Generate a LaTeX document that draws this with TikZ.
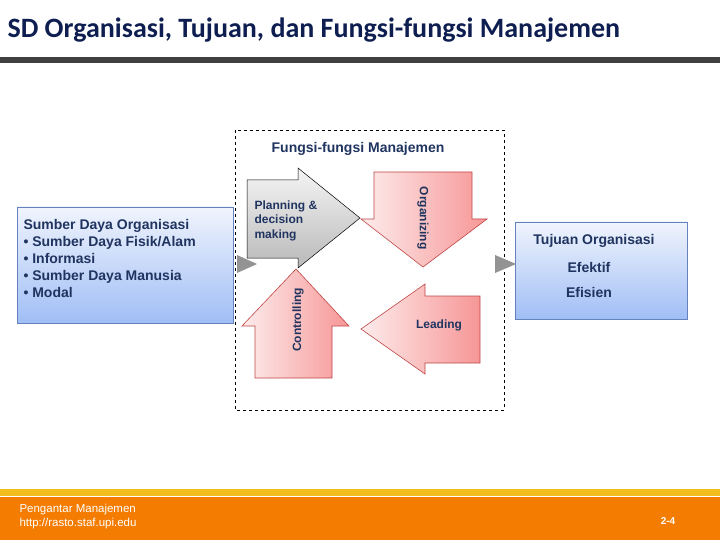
\documentclass[tikz,border=0pt]{standalone}
\usepackage{fontspec}
\setmainfont{Liberation Sans}
\newfontfamily\titlefont{Carlito}
\usetikzlibrary{calc}
\definecolor{titlenavy}{RGB}{14,30,80}
\definecolor{labelnavy}{RGB}{32,52,96}
\definecolor{bargray}{RGB}{64,64,64}
\definecolor{boxblue}{RGB}{100,130,190}
\definecolor{boxtop}{RGB}{240,244,253}
\definecolor{boxbottom}{RGB}{160,190,245}
\definecolor{pinklight}{RGB}{253,236,236}
\definecolor{pinkdark}{RGB}{247,150,150}
\definecolor{pinkline}{RGB}{190,70,70}
\definecolor{footyellow}{RGB}{242,190,30}
\definecolor{footorange}{RGB}{244,124,0}

\begin{document}
\begin{tikzpicture}[x=1pt, y=-1pt,
    label/.style={text=labelnavy, font=\bfseries\fontsize{12}{14}\selectfont},
    pinkarrow/.style={left color=pinklight, right color=pinkdark, draw=pinkline, line width=0.6pt},
    joiner/.style={fill=gray!85!white}]
    \useasboundingbox (0,0) rectangle (720,540);

    % Title and bar
    \node[anchor=west, text=titlenavy, font=\titlefont\bfseries\fontsize{28}{32}\selectfont] (title) at (4,30) {SD Organisasi, Tujuan, dan Fungsi-fungsi Manajemen};
    \fill[bargray] (0,57) rectangle (720,63);

    % Resources box
    \draw[boxblue, top color=boxtop, bottom color=boxbottom] (17,207) rectangle (233,323);
    \node[anchor=north west, align=left, text=labelnavy, font=\bfseries\fontsize{14}{17}\selectfont] (sumber) at (20,215.5)
        {Sumber Daya Organisasi\\
         \textbullet\ Sumber Daya Fisik/Alam\\
         \textbullet\ Informasi\\
         \textbullet\ Sumber Daya Manusia\\
         \textbullet\ Modal};

    % Goals box
    \draw[boxblue, top color=boxtop, bottom color=boxbottom] (515,222) rectangle (687,319);
    \node[label, font=\bfseries\fontsize{14}{16}\selectfont] (tujuan) at (594,241) {Tujuan Organisasi};
    \node[label, font=\bfseries\fontsize{14}{16}\selectfont] (efektif) at (589,267) {Efektif};
    \node[label, font=\bfseries\fontsize{14}{16}\selectfont] (efisien) at (589,292) {Efisien};

    % Functions frame
    \draw[dashed, line width=0.6pt] (235,130) rectangle (504,410);
    \node[label, font=\bfseries\fontsize{14}{16}\selectfont] (fungsi) at (358,149) {Fungsi-fungsi Manajemen};

    % Planning (gray, right)
    \draw[black, line width=0.5pt, top color=gray!8, bottom color=gray!55]
        (247,180) -- (298,180) -- (298,168) -- (360,218) -- (298,268) -- (298,258) -- (247,258) -- cycle;
    \node[label, anchor=north west, align=left, font=\bfseries\fontsize{12}{14.5}\selectfont] (planning) at (251,197) {Planning \&\\decision\\making};

    % Organizing (down)
    \draw[pinkarrow] (374,172) -- (472,172) -- (472,219) -- (487,219) -- (423,267) -- (361,219) -- (374,219) -- cycle;
    \node[label, rotate=-90] (organizing) at (423,218) {Organizing};

    % Leading (left)
    \draw[pinkarrow] (361,329) -- (425,284) -- (425,296) -- (480,296) -- (480,363) -- (425,363) -- (425,374) -- cycle;
    \node[label] (leading) at (439,325) {Leading};

    % Controlling (up)
    \draw[pinkarrow] (296,269) -- (349,326) -- (332,326) -- (332,378) -- (255,378) -- (255,326) -- (242,326) -- cycle;
    \node[label, rotate=90] (controlling) at (298,320) {Controlling};

    % Small joining triangles
    \fill[joiner] (237,255) -- (257,264) -- (237,273) -- cycle;
    \fill[joiner] (495,255) -- (516,264) -- (495,273) -- cycle;

    % Footer
    \fill[footyellow] (0,489) rectangle (720,496);
    \fill[footorange] (0,497) rectangle (720,540);
    \node[anchor=west, align=left, text=white, font=\fontsize{11.5}{14}\selectfont] (footer) at (16,517) {Pengantar Manajemen\\http://rasto.staf.upi.edu};
    \node[text=white, font=\bfseries\fontsize{10}{12}\selectfont] (page) at (668,521) {2-4};
\end{tikzpicture}
\end{document}
